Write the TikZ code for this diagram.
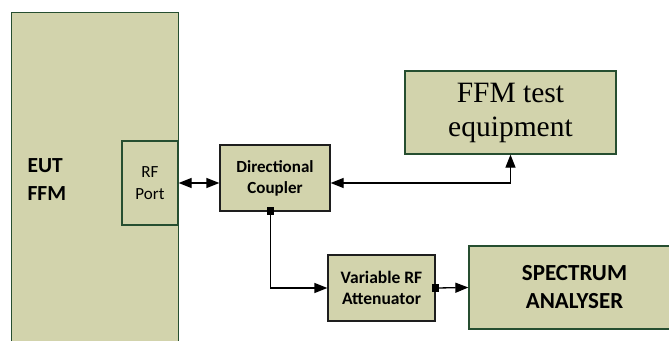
\documentclass[tikz,border=0pt]{standalone}
\usepackage{fontspec}
\setmainfont{Carlito}
\newfontfamily\timesfont{Liberation Serif}
\usetikzlibrary{arrows.meta}
\definecolor{boxfill}{RGB}{210,211,172}
\definecolor{greenedge}{RGB}{38,78,48}
\definecolor{darkedge}{RGB}{30,30,30}
\begin{document}
\begin{tikzpicture}[x=1bp,y=-1bp,
  blk/.style={draw=greenedge, fill=boxfill, line width=1.3bp, inner sep=0pt, align=center, text=black},
  darkblk/.style={blk, draw=darkedge},
  wire/.style={line width=1.3bp, black},
  tip/.style={-{Triangle[length=13bp,width=10bp]}},
  twotip/.style={{Triangle[length=13bp,width=10bp]}-{Triangle[length=13bp,width=10bp]}},
  portsq/.style={fill=black, inner sep=0pt, minimum size=7.5bp}
]
\fill[white] (0,0) rectangle (669,340);
\clip (0,0) rectangle (669,340);

% equipment under test with its RF port
\node[blk, minimum width=167bp, minimum height=400bp, anchor=north west] (eut) at (11,12) {};
\node[anchor=west, align=left, font=\fontsize{21.5bp}{28bp}\selectfont\bfseries] (eutlabel) at (24,180) {EUT\\FFM};
\node[blk, minimum width=56bp, minimum height=84bp, font=\fontsize{17bp}{22bp}\selectfont] (rf) at (150,183) {RF\\Port};

% coupler and test equipment
\node[darkblk, minimum width=110bp, minimum height=66bp, font=\fontsize{17bp}{21bp}\selectfont\bfseries] (coupler) at (275,178) {Directional\\Coupler};
\node[blk, minimum width=211bp, minimum height=83bp, font=\timesfont\fontsize{29.5bp}{34bp}\selectfont] (ffm) at (510.5,112.5) {FFM test\\equipment};

% attenuator and analyser
\node[darkblk, minimum width=107bp, minimum height=66bp, font=\fontsize{17.5bp}{21bp}\selectfont\bfseries] (att) at (381.5,288) {Variable RF\\Attenuator};
\node[blk, minimum width=211bp, minimum height=83bp, font=\fontsize{23bp}{28bp}\selectfont\bfseries] (sa) at (574.5,287.5) {SPECTRUM\\ANALYSER};

% connectors
\draw[wire, twotip] (rf.east) -- (rf.east -| coupler.west);
\draw[wire, twotip] (coupler.east |- rf.east) -| (ffm.south);

\coordinate (ctap) at (270.5,211);
\draw[wire, tip] (ctap) |- (att.west);
\node[portsq] (ctapsq) at (ctap) {};

\draw[wire, tip] (att.east) -- (sa.west);
\node[portsq] (attsq) at (att.east) {};
\end{tikzpicture}
\end{document}
